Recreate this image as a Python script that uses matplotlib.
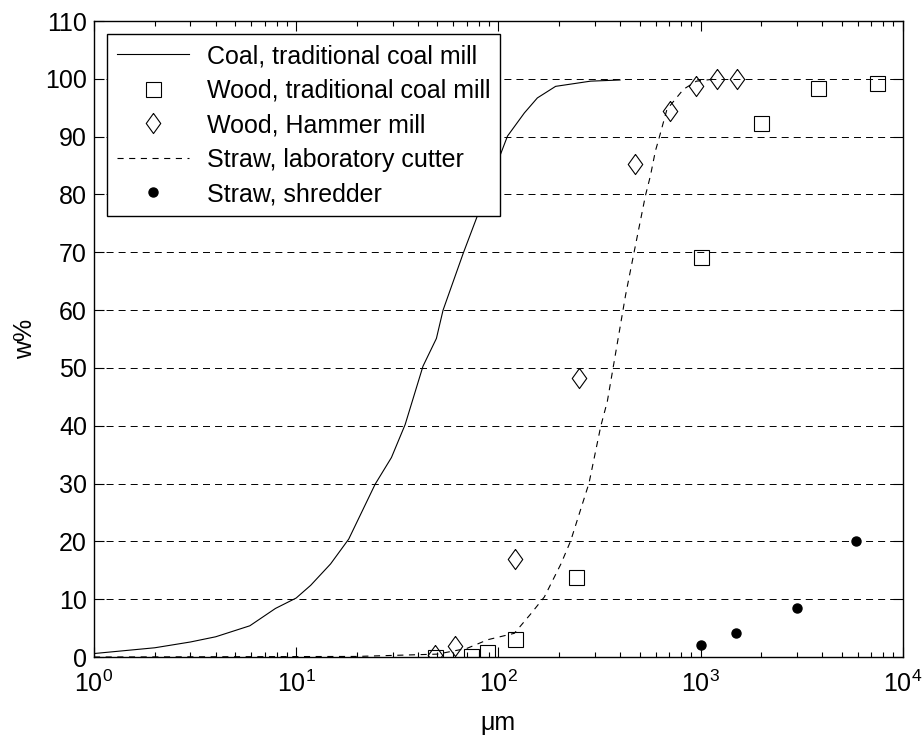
import numpy as np
import matplotlib
matplotlib.use("Agg")
import matplotlib.pyplot as plt
from matplotlib.ticker import LogLocator, MultipleLocator

# %% Particle size distributions (size in um, cumulative w%)
coal_x = [1, 2, 3, 4, 5.9, 7.9, 10, 11.8, 14.8, 18.2, 24.6, 29.6, 34.6,
          42.4, 49.4, 53.3, 67, 77.8, 94, 111, 134.5, 156, 192, 286, 400]
coal_y = [0.6, 1.6, 2.6, 3.5, 5.4, 8.4, 10.2, 12.4, 16.1, 20.4, 29.9, 34.5,
          40.2, 50.3, 55.1, 60.0, 69.8, 75.8, 83.5, 90.1, 94.1, 96.7, 98.7,
          99.6, 99.8]

wood_coal_x = [48.5, 73, 88, 121, 243, 1000, 2000, 3800, 7500]
wood_coal_y = [0, 0.2, 0.9, 3.2, 13.8, 69.2, 92.4, 98.5, 99.3]

wood_hammer_x = [48.5, 61, 121, 250, 476, 708, 955, 1200, 1515]
wood_hammer_y = [0.3, 1.9, 16.9, 48.2, 85.3, 94.4, 98.8, 100, 100]

straw_cut_x = [1, 20, 50, 70, 88.8, 120, 145, 169, 204, 228, 281, 321,
               346, 426, 468, 534, 565, 598, 621, 682, 824, 955, 1200]
straw_cut_y = [0, 0.1, 0.5, 1.5, 3.0, 4.1, 7.5, 10.4, 16.1, 20.1, 30.1,
               39.9, 44.2, 62.6, 69.8, 79.8, 83.2, 87.5, 89.5, 94.7, 98.2,
               99.6, 100]

straw_shred_x = [1000, 1500, 3000, 5900]
straw_shred_y = [2.0, 4.2, 8.4, 20.1]

labels = ['Coal, traditional coal mill', 'Wood, traditional coal mill',
          'Wood, Hammer mill', 'Straw, laboratory cutter', 'Straw, shredder']

# %% Style
plt.rcParams['font.family'] = ['Liberation Sans', 'DejaVu Sans']
plt.rcParams['mathtext.default'] = 'regular'
fs = 18

# tall diamond marker
diamond = [(0, 1), (0.72, 0), (0, -1), (-0.72, 0), (0, 1)]

fig = plt.figure(figsize=(9.23, 7.35), dpi=100)
ax = fig.add_axes([0.1018, 0.1061, 0.978 - 0.1018, 0.9714 - 0.1061])

ax.plot(coal_x, coal_y, color='black', lw=0.8, label=labels[0])
ax.plot(wood_coal_x, wood_coal_y, linestyle='none', marker='s', ms=10.8,
        mfc='none', mec='black', mew=0.8, label=labels[1])
ax.plot(wood_hammer_x, wood_hammer_y, linestyle='none', marker=diamond,
        ms=14.5, mfc='none', mec='black', mew=0.8, label=labels[2])
ax.plot(straw_cut_x, straw_cut_y, color='black', lw=0.8,
        linestyle=(0, (5.5, 5)), label=labels[3])
ax.plot(straw_shred_x, straw_shred_y, linestyle='none', marker='o', ms=6.5,
        color='black', label=labels[4])

ax.set_xscale('log')
ax.set_xlim(1, 1e4)
ax.set_ylim(0, 110)
ax.yaxis.set_major_locator(MultipleLocator(10))
ax.xaxis.set_major_locator(LogLocator(base=10, numticks=10))
ax.xaxis.set_minor_locator(LogLocator(base=10, subs=np.arange(2, 10), numticks=20))

# horizontal dashed grid only (dash lengths scale with linewidth)
ax.grid(axis='y', which='major', color='black', linestyle=(0, (7.2, 5.2)), lw=0.7)
ax.set_axisbelow(True)

ax.tick_params(which='both', direction='in', top=True, right=True, width=0.8,
               labelsize=fs)
ax.tick_params(which='major', length=7)
ax.tick_params(which='minor', length=3.6)
ax.tick_params(axis='x', which='major', pad=10)
ax.tick_params(axis='y', which='major', pad=5)
for s in ax.spines.values():
    s.set_linewidth(1.0)

ax.set_xlabel('\u03bcm', fontsize=fs, labelpad=10)
ax.set_ylabel('w%', fontsize=fs, labelpad=6)

leg = ax.legend(loc='upper left', fancybox=False, edgecolor='black',
                framealpha=1, fontsize=fs, handlelength=2.9,
                labelspacing=0.42, borderaxespad=0.52, handletextpad=0.7,
                borderpad=0.4)
leg.get_frame().set_linewidth(1.0)

fig.savefig('out.png', dpi=100)
